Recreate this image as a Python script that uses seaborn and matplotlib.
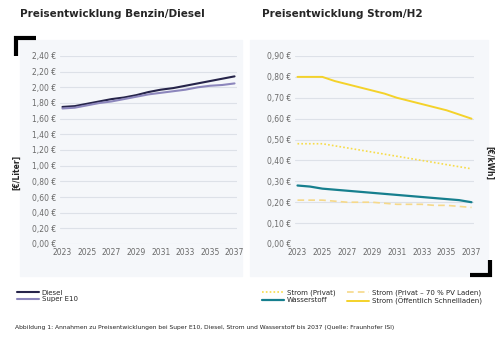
import numpy as np
import pandas as pd
import seaborn as sns
import matplotlib.pyplot as plt
from matplotlib.lines import Line2D
from matplotlib.patches import Rectangle
from matplotlib.ticker import FuncFormatter

years = list(range(2023, 2038))

# Benzin / Diesel in Euro pro Liter
diesel = [1.75, 1.76, 1.79, 1.82, 1.85, 1.87, 1.90, 1.94, 1.97, 1.99, 2.02, 2.05, 2.08, 2.11, 2.14]
super_e10 = [1.73, 1.74, 1.77, 1.80, 1.82, 1.85, 1.88, 1.91, 1.93, 1.95, 1.97, 2.00, 2.02, 2.03, 2.05]

# Strom / H2 in Euro pro kWh
strom_privat = [0.48, 0.48, 0.48, 0.47, 0.46, 0.45, 0.44, 0.43, 0.42, 0.41, 0.40, 0.39, 0.38, 0.37, 0.36]
strom_pv = [0.21, 0.21, 0.21, 0.205, 0.20, 0.20, 0.20, 0.195, 0.19, 0.19, 0.19, 0.185, 0.185, 0.18, 0.175]
wasserstoff = [0.28, 0.275, 0.265, 0.26, 0.255, 0.25, 0.245, 0.24, 0.235, 0.23, 0.225, 0.22, 0.215, 0.21, 0.20]
strom_oeff = [0.80, 0.80, 0.80, 0.78, 0.765, 0.75, 0.735, 0.72, 0.70, 0.685, 0.67, 0.655, 0.64, 0.62, 0.60]

left_ticks = [0.0, 0.2, 0.4, 0.6, 0.8, 1.0, 1.2, 1.4, 1.6, 1.8, 2.0, 2.2, 2.4]
right_ticks = [0.0, 0.1, 0.2, 0.3, 0.4, 0.5, 0.6, 0.7, 0.8, 0.9]
x_ticks = list(range(2023, 2038, 2))

sns.set_style("white")
plt.rcParams['font.family'] = ['DejaVu Sans']

fig = plt.figure(figsize=(5, 3.53), dpi=100)
W, H = 500, 353

def fx(px):
    return px / W

def fy(py):
    return 1 - py / H

# pale panel backgrounds
fig.patches.append(Rectangle((fx(20), fy(276)), fx(222), (236) / H, transform=fig.transFigure,
                             color="#f5f7fa", zorder=-5))
fig.patches.append(Rectangle((fx(250), fy(276)), fx(238), (236) / H, transform=fig.transFigure,
                             color="#f5f7fa", zorder=-5))

ax1 = fig.add_axes([fx(60), fy(244), fx(177), (244 - 56) / H])
ax2 = fig.add_axes([fx(295), fy(244), fx(179), (244 - 56) / H])

df_fuel = pd.DataFrame({"Jahr": years * 2,
                        "Preis": diesel + super_e10,
                        "Sorte": ["Diesel"] * 15 + ["Super E10"] * 15})
sns.lineplot(data=df_fuel, x="Jahr", y="Preis", hue="Sorte",
             palette={"Diesel": "#26244a", "Super E10": "#8c86bc"}, linewidth=1.5, ax=ax1, legend=False)

# Strom / H2
styles = [("Strom (Privat)", strom_privat, "#f7dc4a", (0, (1, 1.3)), 1.2),
          ("Wasserstoff", wasserstoff, "#167f8e", "-", 1.6),
          ("Strom (Privat – 70 % PV Laden)", strom_pv, "#f6d98a", (0, (4, 2.5)), 1.2),
          ("Strom (Öffentlich Schnellladen)", strom_oeff, "#f4d22a", "-", 1.4)]
handles2 = []
for name, vals, col, ls, lw in styles:
    sns.lineplot(x=years, y=vals, color=col, linestyle=ls, linewidth=lw, ax=ax2)
    handles2.append(Line2D([0], [0], color=col, linestyle=ls, linewidth=lw, label=name))

def euro(v, pos):
    return f"{v:.2f} €".replace(".", ",")

for ax, ticks in [(ax1, left_ticks), (ax2, right_ticks)]:
    ax.set_zorder(2)
    ax.patch.set_visible(False)
    ax.set_ylim(ticks[0], ticks[-1])
    ax.set_yticks(ticks)
    ax.yaxis.set_major_formatter(FuncFormatter(euro))
    ax.set_xlim(2022.8, 2037.2)
    ax.set_xticks(x_ticks)
    ax.grid(axis="y", color="#dde1e8", linewidth=0.8)
    ax.set_axisbelow(True)
    for s in ax.spines.values():
        s.set_visible(False)
    ax.tick_params(axis="both", length=0, labelsize=5.5, labelcolor="#6a6a6a", pad=3)
    ax.set_xlabel("")
    ax.set_ylabel("")
    for lbl in ax.get_lines():
        lbl.set_clip_on(False)

# titles
fig.text(fx(20), fy(14), "Preisentwicklung Benzin/Diesel", fontsize=7.5, fontweight="bold", va="center")
fig.text(fx(262), fy(14), "Preisentwicklung Strom/H2", fontsize=7.5, fontweight="bold", va="center")

# axis unit labels
fig.text(fx(17), fy(172), "[€/Liter]", rotation=90, fontsize=5.5, fontweight="bold", ha="center", va="center")
fig.text(fx(489), fy(163), "[€/kWh]", rotation=270, fontsize=5.5, fontweight="bold", ha="center", va="center")

# corner brackets
lw_b = 3
for xs, ys in [([36, 16, 16], [38, 38, 56]), ([470, 490, 490], [275, 275, 260])]:
    fig.add_artist(Line2D([fx(v) for v in xs], [fy(v) for v in ys], color="black", lw=lw_b,
                          solid_joinstyle="miter", solid_capstyle="butt", transform=fig.transFigure))

# legends
handles1 = [Line2D([0], [0], color="#26244a", lw=1.5, label="Diesel"),
            Line2D([0], [0], color="#8c86bc", lw=1.5, label="Super E10")]
fig.legend(handles=handles1, loc="upper left", bbox_to_anchor=(fx(14), fy(287)), frameon=False,
           fontsize=5, handlelength=3.2, labelspacing=0.1, handletextpad=0.4, borderaxespad=0)
fig.legend(handles=handles2, loc="upper left", bbox_to_anchor=(fx(259), fy(287)), frameon=False, ncol=2,
           fontsize=5, handlelength=3.2, labelspacing=0.1, handletextpad=0.4, columnspacing=1.6,
           borderaxespad=0)

fig.text(fx(15), fy(328), "Abbildung 1: Annahmen zu Preisentwicklungen bei Super E10, Diesel, Strom und Wasserstoff bis 2037 (Quelle: Fraunhofer ISI)",
         fontsize=4.3, va="center", color="#222222")

plt.savefig("out.png", dpi=100)
